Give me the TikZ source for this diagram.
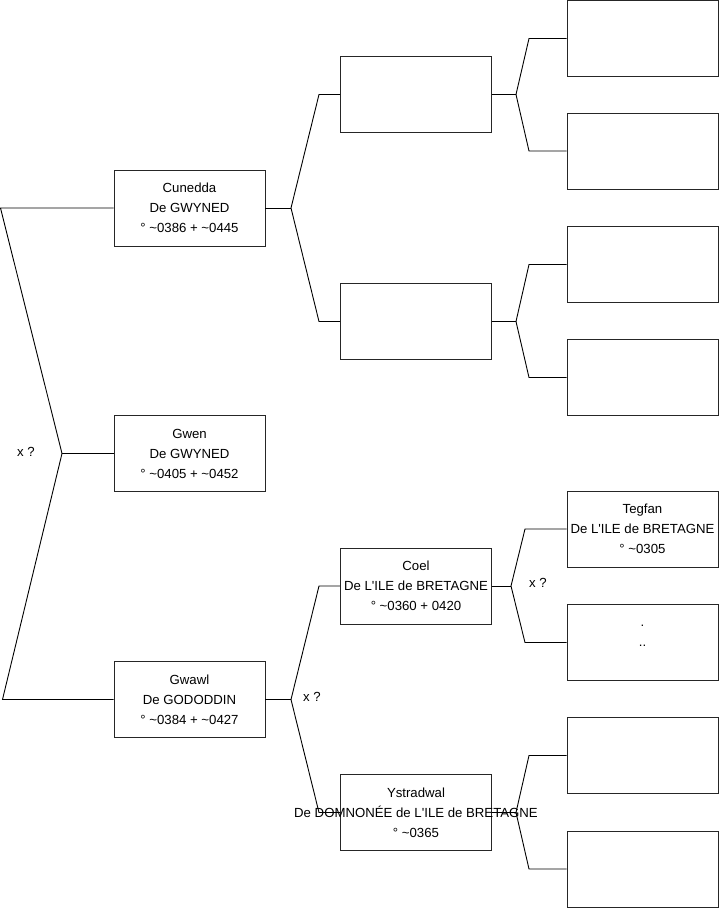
\documentclass[tikz,border=0pt]{standalone}
\usepackage{fontspec}
\setmainfont{Liberation Sans}[Ligatures=TeXOff]
\newcommand\lowered[1]{\raisebox{-6pt}[\height][\depth]{#1}}
\begin{document}
\begin{tikzpicture}[x=1pt,y=-1pt,
  box/.style={draw=black!85, line width=0.9pt, minimum width=151pt, minimum height=76pt, inner sep=0pt, align=center, font=\fontsize{13.2}{20}\selectfont},
  link/.style={draw=black, line width=0.9pt},
  lbl/.style={inner sep=0pt, font=\fontsize{13.2}{15}\selectfont}]
\useasboundingbox (0,0) rectangle (719,908);
% level 1
\node[box] (cun) at (189.5,208) {Cunedda\\De GWYNED\\° \textasciitilde0386 + \textasciitilde0445};
\node[box] (gwen) at (189.5,453.5) {Gwen\\De GWYNED\\° \textasciitilde0405 + \textasciitilde0452};
\node[box] (gwawl) at (189.5,699.5) {Gwawl\\De GODODDIN\\° \textasciitilde0384 + \textasciitilde0427};
% level 2
\node[box] (a1) at (416,94.5) {};
\node[box] (a2) at (416,321.5) {};
\node[box] (coel) at (416,586) {Coel\\\makebox[0pt]{De L'ILE de BRETAGNE}\\° \textasciitilde0360 + 0420};
\node[box] (ystr) at (416,812.5) {Ystradwal\\\makebox[0pt]{De DOMNONÉE de L'ILE de BRETAGNE}\\° \textasciitilde0365};
% level 3
\node[box] (b1) at (642.5,38.5) {};
\node[box] (b2) at (642.5,151) {};
\node[box] (b3) at (642.5,264.5) {};
\node[box] (b4) at (642.5,377.5) {};
\node[box] (teg) at (642.5,529) {Tegfan\\\makebox[0pt]{De L'ILE de BRETAGNE}\\° \textasciitilde0305};
\node[box] (dots) at (642.5,642.5) {\lowered{.}\\\lowered{..}\\\strut};
\node[box] (b7) at (642.5,755.5) {};
\node[box] (b8) at (642.5,869) {};
% root bracket
\coordinate (r1) at (0.5,208);
\coordinate (rj) at (62,453.5);
\coordinate (r2) at (2.5,699.5);
\draw[link] (cun.west) -- (r1) -- (rj) -- (r2) -- (gwawl.west);
\draw[link] (rj) -- (gwen.west);
\node[lbl] (xq1) at (26,452) {x ?};
% Cunedda bracket
\coordinate (cj) at (291,208);
\coordinate (c1) at (319,94.5);
\coordinate (c2) at (319,321.5);
\draw[link] (a1.west) -- (c1) -- (cj) -- (c2) -- (a2.west);
\draw[link] (cun.east) -- (cj);
% Gwawl bracket
\coordinate (gj) at (291,699.5);
\coordinate (g1) at (319,586);
\coordinate (g2) at (319,812.5);
\draw[link] (coel.west) -- (g1) -- (gj) -- (g2) -- (ystr.west);
\draw[link] (gwawl.east) -- (gj);
\node[lbl] (xq2) at (312,697) {x ?};
% a1 bracket
\coordinate (aj1) at (516,94.5);
\coordinate (a11) at (529,38.5);
\coordinate (a12) at (529,151);
\draw[link] (b1.west) -- (a11) -- (aj1) -- (a12) -- (b2.west);
\draw[link] (a1.east) -- (aj1);
% a2 bracket
\coordinate (aj2) at (516,321.5);
\coordinate (a21) at (529,264.5);
\coordinate (a22) at (529,377.5);
\draw[link] (b3.west) -- (a21) -- (aj2) -- (a22) -- (b4.west);
\draw[link] (a2.east) -- (aj2);
% Coel bracket
\coordinate (kj) at (511,586);
\coordinate (k1) at (525,529);
\coordinate (k2) at (525,642.5);
\draw[link] (teg.west) -- (k1) -- (kj) -- (k2) -- (dots.west);
\draw[link] (coel.east) -- (kj);
\node[lbl] (xq3) at (538,583) {x ?};
% Ystradwal bracket
\coordinate (yj) at (516,812.5);
\coordinate (y1) at (529,755.5);
\coordinate (y2) at (529,869);
\draw[link] (b7.west) -- (y1) -- (yj) -- (y2) -- (b8.west);
\draw[link] (ystr.east) -- (yj);
\end{tikzpicture}
\end{document}
